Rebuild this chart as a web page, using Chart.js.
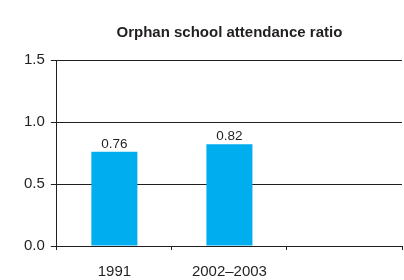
<!DOCTYPE html>
<html><head><meta charset="utf-8">
<script src="https://cdn.jsdelivr.net/npm/chart.js@4"></script>
<style>html,body{margin:0;padding:0;background:#fff}#c{display:block}</style>
</head><body>
<div style="width:404px;height:280px"><canvas id="c" width="404" height="280"></canvas></div>
<script>
const categories = ["1991", "2002\u20132003", ""];
const values = [0.76, 0.82, null];
const yTicks = [0, 0.5, 1.0, 1.5];
const title = "Orphan school attendance ratio";

const FONT = "'Liberation Sans', Arial, sans-serif";

const labelPlugin = {
  id: 'barLabels',
  afterDatasetsDraw(chart) {
    const ctx = chart.ctx;
    const meta = chart.getDatasetMeta(0);
    ctx.save();
    ctx.font = "13.5px " + FONT;
    ctx.fillStyle = "#231f20";
    ctx.textAlign = "center";
    ctx.textBaseline = "bottom";
    meta.data.forEach((el, i) => {
      const v = values[i];
      if (v == null) return;
      ctx.fillText(v.toFixed(2), el.x, el.y - 1);
    });
    ctx.restore();
  }
};

new Chart(document.getElementById('c'), {
  type: 'bar',
  data: {
    labels: categories,
    datasets: [{
      data: values,
      backgroundColor: '#00AEEF',
      borderWidth: 0,
      barPercentage: 0.4,
      categoryPercentage: 1.0
    }]
  },
  options: {
    responsive: false,
    animation: false,
    devicePixelRatio: 1,
    layout: { padding: { left: 18, right: 2, top: 0, bottom: -14 } },
    plugins: {
      legend: { display: false },
      tooltip: { enabled: false },
      title: {
        display: true,
        text: title,
        fullSize: false,
        color: '#231f20',
        font: { family: FONT, size: 15, weight: 'bold', lineHeight: 1.2 },
        padding: { top: 24, bottom: 18 }
      }
    },
    scales: {
      x: {
        grid: { display: true, drawOnChartArea: false, offset: true, color: '#231f20', tickLength: 4, tickWidth: 1 },
        border: { display: true, color: '#231f20', width: 1 },
        ticks: { color: '#231f20', font: { family: FONT, size: 15 }, padding: 13, maxRotation: 0 }
      },
      y: {
        min: 0, max: 1.5,
        afterBuildTicks(scale) { scale.ticks = yTicks.map(v => ({ value: v })); },
        grid: { color: '#231f20', lineWidth: 1, tickLength: 6, drawTicks: true },
        border: { display: true, color: '#231f20', width: 1 },
        ticks: { color: '#231f20', font: { family: FONT, size: 15 }, padding: 6,
                 callback: v => Number(v).toFixed(1) }
      }
    }
  },
  plugins: [labelPlugin]
});
</script>
</body></html>
